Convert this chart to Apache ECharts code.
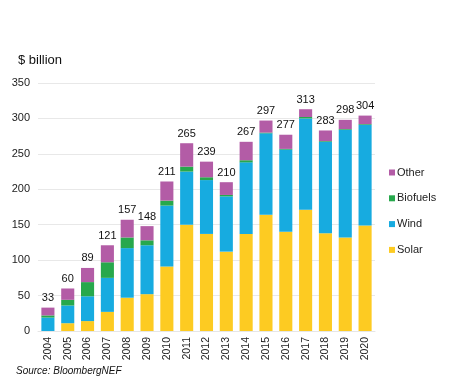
<!DOCTYPE html>
<html><head><meta charset="utf-8">
<script src="https://cdn.jsdelivr.net/npm/echarts@6/dist/echarts.min.js"></script>
<style>html,body{margin:0;padding:0;background:#fff}#c{width:463px;height:378px}</style>
</head><body><div id="c"></div>
<script>
const years = ['2004','2005','2006','2007','2008','2009','2010','2011','2012','2013','2014','2015','2016','2017','2018','2019','2020'];
const solar    = [0, 11, 14, 27, 47, 52, 91, 150, 137, 112, 137, 164, 140, 171, 138, 132, 149];
const wind     = [19, 25, 35, 48, 70, 69, 86, 75, 76, 78, 101, 115, 116, 129, 129, 152, 142];
const biofuels = [3, 8, 20, 22, 15, 7, 7, 7, 4, 2, 3, 1, 1, 2, 1, 1, 1];
const other    = [11, 16, 20, 24, 25, 20, 27, 33, 22, 18, 26, 17, 20, 11, 15, 13, 12];
const totals   = [33, 60, 89, 121, 157, 148, 211, 265, 239, 210, 267, 297, 277, 313, 283, 298, 304];
const yTicks   = [0, 50, 100, 150, 200, 250, 300, 350];

const font = 'Liberation Sans, Arial, sans-serif';
const chart = echarts.init(document.getElementById('c'), null, {renderer: 'canvas'});
const mk = (name, data, color, extra) => Object.assign({
  name, type: 'bar', stack: 'all', data, barWidth: '66%',
  itemStyle: {color}, emphasis: {disabled: true}
}, extra || {});
chart.setOption({
  animation: false,
  textStyle: {fontFamily: font},
  title: [
    {text: '$ billion', left: 13, top: 49, textStyle: {fontSize: 13, fontWeight: 'normal', color: '#111', fontFamily: font}},
    {text: 'Source: BloombergNEF', left: 11, top: 361, textStyle: {fontSize: 10, fontStyle: 'italic', fontWeight: 'normal', color: '#111', fontFamily: font}}
  ],
  legend: {
    data: ['Other', 'Biofuels', 'Wind', 'Solar'],
    orient: 'vertical', left: 384, top: 162, itemGap: 14.8,
    itemWidth: 6, itemHeight: 6, icon: 'rect',
    textStyle: {fontSize: 11, color: '#222', fontFamily: font, padding: [0, 0, 0, -3]}
  },
  grid: {left: 38, right: 88, top: 83, bottom: 47},
  xAxis: {
    type: 'category', data: years,
    axisLine: {show: true, lineStyle: {color: '#e6e6e6'}},
    axisTick: {show: false},
    axisLabel: {rotate: 90, fontSize: 10.5, color: '#222', margin: 6, fontFamily: font}
  },
  yAxis: {
    type: 'value', min: yTicks[0], max: yTicks[yTicks.length - 1], interval: 50,
    axisLine: {show: false}, axisTick: {show: false},
    axisLabel: {fontSize: 11, color: '#222', margin: 8, fontFamily: font},
    splitLine: {lineStyle: {color: '#e8e8e8'}}
  },
  series: [
    mk('Solar', solar, '#fdcb22'),
    mk('Wind', wind, '#17abe0'),
    mk('Biofuels', biofuels, '#27a84c'),
    mk('Other', other, '#b35ca6', {
      label: {show: true, position: 'top', distance: 4, fontSize: 11, color: '#111', fontFamily: font,
        formatter: p => String(totals[p.dataIndex])}
    })
  ]
});
</script></body></html>
